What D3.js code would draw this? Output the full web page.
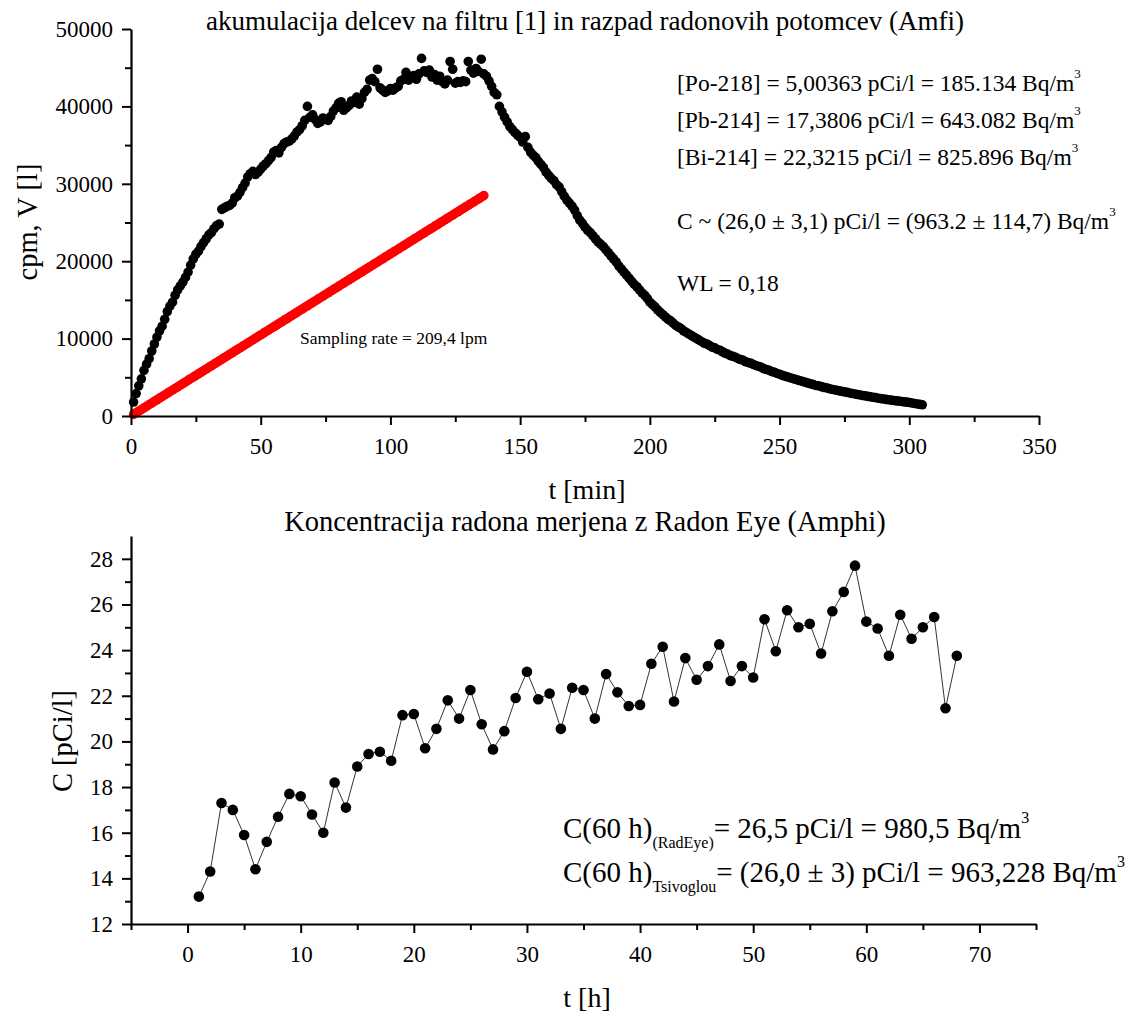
<!DOCTYPE html>
<html>
<head>
<meta charset="utf-8">
<script src="https://cdn.jsdelivr.net/npm/d3@7"></script>
<style>
  html, body { margin: 0; padding: 0; background: #fff; }
  svg { display: block; }
  text { font-family: "Liberation Serif", "Times New Roman", serif; fill: #000; }
</style>
</head>
<body>
<svg id="chart" width="1137" height="1015"></svg>
<script>
// ---------------- DATA ----------------
// Top chart: counts (cpm) on the filter, one reading per minute starting at t = 1 min
const cpmStart = 1;
const cpmValues = [
  1800, 2900, 3900, 4800, 5900, 6700, 7400, 8400, 9300, 10200,
  11000, 11600, 12500, 13500, 14200, 14700, 15600, 16300, 16800, 17300,
  17900, 18600, 19500, 20300, 20900, 21300, 21900, 22400, 22900, 23400,
  23700, 24200, 24600, 24800, 26700, 26900, 27100, 27200, 27500, 28200,
  28400, 28900, 29500, 30100, 30900, 31300, 31600, 31200, 31500, 31900,
  32300, 32600, 33000, 33400, 34100, 34300, 34000, 34700, 35200, 35400,
  35500, 35800, 36200, 36700, 37000, 37500, 38200, 40000, 38600, 38900,
  38300, 37800, 38000, 38500, 38300, 38200, 38700, 39400, 39800, 40400,
  40600, 39500, 39800, 40100, 40700, 40500, 41200, 40300, 41000, 41800,
  42200, 43400, 43600, 43200, 44800, 42400, 42100, 41800, 42000, 42300,
  42100, 42400, 42600, 43300, 43500, 44400, 43400, 43700, 44000, 43500,
  44200, 46200, 44600, 44400, 44700, 43800, 44100, 43400, 43900, 43200,
  42900, 43400, 45800, 44800, 43000, 43200, 43100, 43300, 43200, 45800,
  44700, 44300, 44900, 44500, 46100, 44200, 43900, 43300, 42600, 41800,
  41500, 40000, 39300, 38600, 38000, 37400, 37000, 36600, 36300, 36000,
  35400, 36100, 34700, 34100, 33700, 33400, 32900, 32500, 32100, 31500,
  31100, 30700, 30400, 29900, 29600, 29000, 28400, 27900, 27500, 27100,
  26600, 25900, 25300, 24900, 24400, 24000, 23700, 23300, 22900, 22500,
  22200, 21900, 21500, 21100, 20700, 20300, 19900, 19400, 19000, 18600,
  18200, 17800, 17400, 17000, 16700, 16300, 15900, 15600, 15200, 14700,
  14400, 14100, 13700, 13400, 13100, 12800, 12500, 12300, 12000, 11700,
  11500, 11300, 11000, 10800, 10600, 10400, 10200, 10000, 9800, 9600,
  9400, 9300, 9100, 8900, 8800, 8600, 8500, 8300, 8100, 8000,
  7800, 7700, 7600, 7400, 7300, 7200, 7000, 6900, 6800, 6650,
  6500, 6400, 6300, 6100, 6000, 5900, 5750, 5650, 5500, 5400,
  5250, 5150, 5050, 4950, 4850, 4750, 4650, 4550, 4450, 4350,
  4250, 4150, 4050, 3950, 3900, 3800, 3700, 3650, 3550, 3450,
  3400, 3320, 3250, 3180, 3120, 3050, 2980, 2900, 2850, 2780,
  2720, 2650, 2600, 2530, 2480, 2420, 2370, 2300, 2250, 2200,
  2150, 2100, 2050, 2000, 1960, 1920, 1880, 1830, 1790, 1750,
  1680, 1620, 1560, 1500, 1450
];

// Top chart: sampled air volume V [l] (red), one reading per minute starting at t = 1 min
const volumeStart = 1;
const volumeValues = [
  209, 419, 628, 838, 1047, 1256, 1466, 1675, 1885, 2094,
  2303, 2513, 2722, 2932, 3141, 3350, 3560, 3769, 3979, 4188,
  4397, 4607, 4816, 5026, 5235, 5444, 5654, 5863, 6073, 6282,
  6491, 6701, 6910, 7120, 7329, 7538, 7748, 7957, 8167, 8376,
  8585, 8795, 9004, 9214, 9423, 9632, 9842, 10051, 10261, 10470,
  10679, 10889, 11098, 11308, 11517, 11726, 11936, 12145, 12355, 12564,
  12773, 12983, 13192, 13402, 13611, 13820, 14030, 14239, 14449, 14658,
  14867, 15077, 15286, 15496, 15705, 15914, 16124, 16333, 16543, 16752,
  16961, 17171, 17380, 17590, 17799, 18008, 18218, 18427, 18637, 18846,
  19055, 19265, 19474, 19684, 19893, 20102, 20312, 20521, 20731, 20940,
  21149, 21359, 21568, 21778, 21987, 22196, 22406, 22615, 22825, 23034,
  23243, 23453, 23662, 23872, 24081, 24290, 24500, 24709, 24919, 25128,
  25337, 25547, 25756, 25966, 26175, 26384, 26594, 26803, 27013, 27222,
  27431, 27641, 27850, 28060, 28269, 28478
];

// Bottom chart: Radon Eye concentration, hourly
const hours = [
  1, 2, 3, 4, 5, 6, 7, 8, 9, 10, 11, 12, 13, 14, 15, 16, 17, 18, 19, 20,
  21, 22, 23, 24, 25, 26, 27, 28, 29, 30, 31, 32, 33, 34, 35, 36, 37, 38, 39, 40,
  41, 42, 43, 44, 45, 46, 47, 48, 49, 50, 51, 52, 53, 54, 55, 56, 57, 58, 59, 60,
  61, 62, 63, 64, 65, 66, 67, 68
];
const radonConc = [
  13.2, 14.3, 17.3, 17.0, 15.9, 14.4, 15.6, 16.7, 17.7, 17.6,
  16.8, 16.0, 18.2, 17.1, 18.9, 19.45, 19.55, 19.15, 21.15, 21.2,
  19.7, 20.55, 21.8, 21.0, 22.25, 20.75, 19.65, 20.45, 21.9, 23.05,
  21.85, 22.1, 20.55, 22.35, 22.25, 21.0, 22.95, 22.15, 21.55, 21.6,
  23.4, 24.15, 21.75, 23.65, 22.7, 23.3, 24.25, 22.65, 23.3, 22.8,
  25.35, 23.95, 25.75, 25.0, 25.15, 23.85, 25.7, 26.55, 27.7, 25.25,
  24.95, 23.75, 25.55, 24.5, 25.0, 25.45, 21.45, 23.75
];

// Axis ticks
const topXTicks = [0, 50, 100, 150, 200, 250, 300, 350];
const topXMinor = [25, 75, 125, 175, 225, 275, 325];
const topYTicks = [0, 10000, 20000, 30000, 40000, 50000];
const topYMinor = [5000, 15000, 25000, 35000, 45000];
const botXTicks = [0, 10, 20, 30, 40, 50, 60, 70];
const botXMinor = [-5, 5, 15, 25, 35, 45, 55, 65, 75];
const botYTicks = [12, 14, 16, 18, 20, 22, 24, 26, 28];
const botYMinor = [13, 15, 17, 19, 21, 23, 25, 27];

// Texts
const topTitle = "akumulacija delcev na filtru [1] in razpad radonovih potomcev (Amfi)";
const botTitle = "Koncentracija radona merjena z Radon Eye (Amphi)";
const topNotes = [
  "[Po-218] = 5,00363 pCi/l = 185.134 Bq/m",
  "[Pb-214] = 17,3806 pCi/l = 643.082 Bq/m",
  "[Bi-214] = 22,3215 pCi/l = 825.896 Bq/m",
  "C ~ (26,0 \u00b1 3,1) pCi/l = (963.2 \u00b1 114,7) Bq/m"
];
const wlNote = "WL = 0,18";
const samplingNote = "Sampling rate = 209,4 lpm";

// ---------------- DRAW ----------------
const svg = d3.select("#chart");
const FONT = "'Liberation Serif', 'Times New Roman', serif";

function drawAxes(g, x, y, xt, xm, yt, ym, xLabelFmt) {
  const x0 = x.range()[0], y0 = y.range()[0];
  const xa = g.append("g").attr("transform", `translate(0,${y0})`)
    .call(d3.axisBottom(x).tickValues(xt).tickSize(9).tickPadding(13).tickSizeOuter(0).tickFormat(xLabelFmt));
  xa.append("g").call(d3.axisBottom(x).tickValues(xm).tickSize(6).tickFormat("").tickSizeOuter(0))
    .select(".domain").remove();
  const ya = g.append("g").attr("transform", `translate(${x0},0)`)
    .call(d3.axisLeft(y).tickValues(yt).tickSize(9).tickPadding(9).tickSizeOuter(0).tickFormat(d3.format("d")));
  ya.append("g").call(d3.axisLeft(y).tickValues(ym).tickSize(6).tickFormat("").tickSizeOuter(0))
    .select(".domain").remove();
  g.selectAll(".domain").attr("stroke", "#000").attr("stroke-width", 2.2);
  g.selectAll(".tick line").attr("stroke", "#000").attr("stroke-width", 2);
  g.selectAll(".tick text").attr("font-family", FONT).attr("font-size", 23).attr("fill", "#000");
}

// ---- Top chart ----
const xTop = d3.scaleLinear().domain([0, 350]).range([131, 1039]);
const yTop = d3.scaleLinear().domain([0, 50000]).range([416, 29]);
const gTop = svg.append("g");

gTop.append("g").selectAll("circle.v")
  .data(volumeValues).join("circle")
  .attr("cx", (d, i) => xTop(volumeStart + i))
  .attr("cy", d => yTop(d))
  .attr("r", 4.8)
  .attr("fill", "#ff0000");

gTop.append("g").selectAll("circle.c")
  .data(cpmValues).join("circle")
  .attr("cx", (d, i) => xTop(cpmStart + i))
  .attr("cy", d => yTop(d))
  .attr("r", 4.8)
  .attr("fill", "#000");

drawAxes(gTop, xTop, yTop, topXTicks, topXMinor, topYTicks, topYMinor, d3.format("d"));

svg.append("text").attr("x", 585).attr("y", 30).attr("text-anchor", "middle")
  .attr("font-size", 27).text(topTitle);
svg.append("text").attr("x", 587).attr("y", 499).attr("text-anchor", "middle")
  .attr("font-size", 28).text("t [min]");
svg.append("text").attr("transform", "translate(37,222) rotate(-90)").attr("text-anchor", "middle")
  .attr("font-size", 28.5).text("cpm, V [l]");

const noteY = [91, 128, 165, 229];
topNotes.forEach((t, i) => {
  const tx = svg.append("text").attr("x", 677).attr("y", noteY[i]).attr("font-size", 23.5);
  tx.append("tspan").text(t);
  tx.append("tspan").attr("dy", -13).attr("font-size", 13).text("3");
});
svg.append("text").attr("x", 677).attr("y", 291).attr("font-size", 23.5).text(wlNote);
svg.append("text").attr("x", 300).attr("y", 344).attr("font-size", 17.5).text(samplingNote);

// ---- Bottom chart ----
const xBot = d3.scaleLinear().domain([-5, 75]).range([131, 1036]);
const yBot = d3.scaleLinear().domain([12, 29]).range([924, 536]);
const gBot = svg.append("g");

gBot.append("path")
  .datum(hours.map((h, i) => [h, radonConc[i]]))
  .attr("fill", "none").attr("stroke", "#333").attr("stroke-width", 1)
  .attr("d", d3.line().x(d => xBot(d[0])).y(d => yBot(d[1])));

gBot.append("g").selectAll("circle")
  .data(hours).join("circle")
  .attr("cx", d => xBot(d))
  .attr("cy", (d, i) => yBot(radonConc[i]))
  .attr("r", 5.3)
  .attr("fill", "#000");

drawAxes(gBot, xBot, yBot, botXTicks, botXMinor, botYTicks, botYMinor, d3.format("d"));

svg.append("text").attr("x", 585).attr("y", 531).attr("text-anchor", "middle")
  .attr("font-size", 28.5).text(botTitle);
svg.append("text").attr("x", 587).attr("y", 1007).attr("text-anchor", "middle")
  .attr("font-size", 28).text("t [h]");
svg.append("text").attr("transform", "translate(72,741) rotate(-90)").attr("text-anchor", "middle")
  .attr("font-size", 28.5).text("C [pCi/l]");

// annotations bottom
const a1 = svg.append("text").attr("x", 563).attr("y", 838).attr("font-size", 29);
a1.append("tspan").text("C(60 h)");
a1.append("tspan").attr("dy", 10).attr("font-size", 16).text("(RadEye)");
a1.append("tspan").attr("dy", -10).text("= 26,5 pCi/l = 980,5 Bq/m");
a1.append("tspan").attr("dy", -15).attr("font-size", 16).text("3");

const a2 = svg.append("text").attr("x", 563).attr("y", 882).attr("font-size", 29);
a2.append("tspan").text("C(60 h)");
a2.append("tspan").attr("dy", 10).attr("font-size", 16).text("Tsivoglou");
a2.append("tspan").attr("dy", -10).text("= (26,0 \u00b1 3) pCi/l = 963,228 Bq/m");
a2.append("tspan").attr("dy", -15).attr("font-size", 16).text("3");
</script>
</body>
</html>
